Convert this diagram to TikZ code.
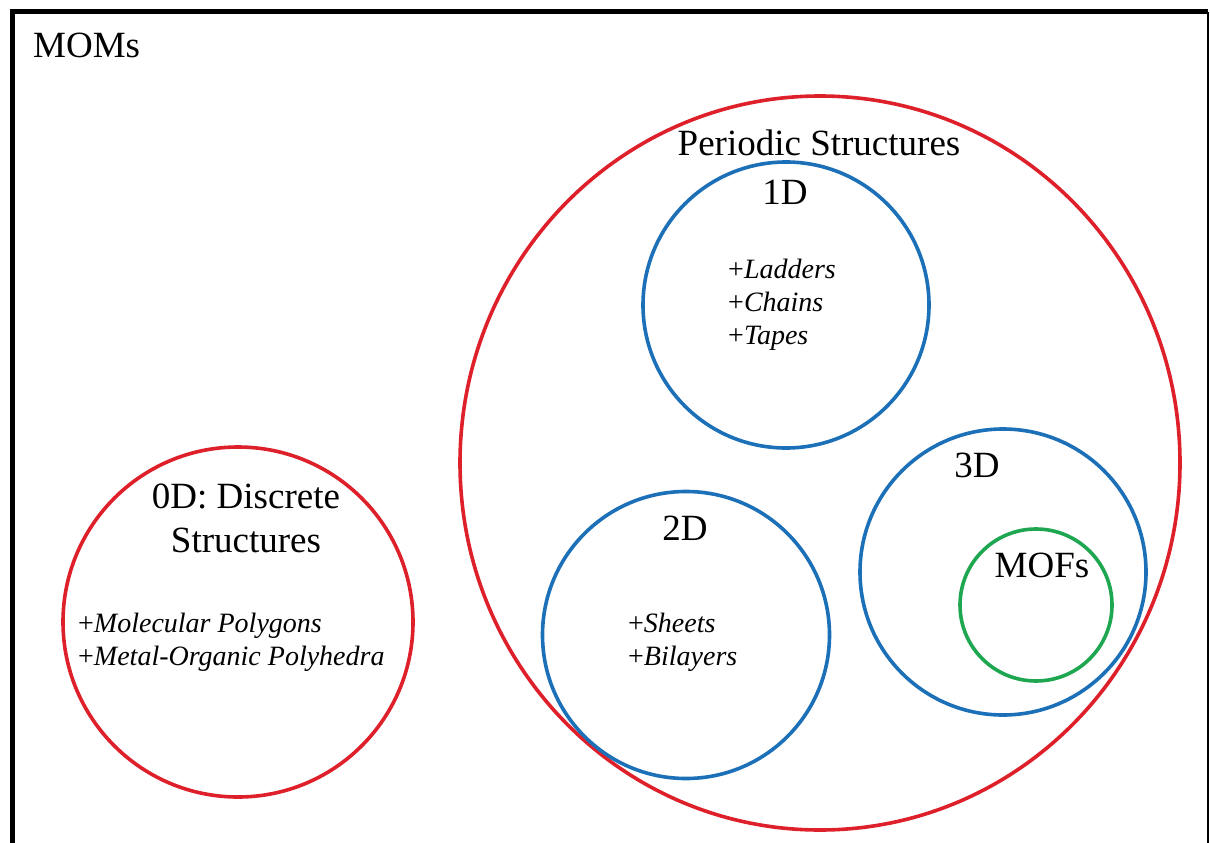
\documentclass[tikz,border=0pt]{standalone}
\usepackage{fontspec}
\setmainfont{Liberation Serif}
\usetikzlibrary{shapes.geometric}
\definecolor{cred}{RGB}{222,32,42}
\definecolor{cblue}{RGB}{28,112,184}
\definecolor{cgreen}{RGB}{30,166,80}
\tikzset{
  ring/.style={circle, draw, line width=3.6pt, inner sep=0pt},
  bigtxt/.style={font=\fontsize{37}{44}\selectfont, inner sep=0pt},
  listtxt/.style={font=\fontsize{28}{33}\selectfont, inner sep=0pt, align=left, anchor=west},
}
\begin{document}
\begin{tikzpicture}[x=1pt,y=-1pt]
\useasboundingbox (0,0) rectangle (1210,843);
\fill[white] (0,0) rectangle (1210,843);
% frame
\draw[line width=1.8pt] (1208,12) -- (1208,860);
\draw[line width=5pt] (1208,12) -- (12,12) -- (12,860);
\node[bigtxt, anchor=west] (moms) at (33,45) {MOMs};
% periodic
\node[draw=cred, line width=3.6pt, ellipse, minimum width=720pt, minimum height=734pt, inner sep=0pt] (per) at (820,463) {};
\node[bigtxt] (pertitle) at (819,143) {Periodic Structures};
% 0D
\node[ring, draw=cred, minimum size=350pt] (zd) at (238,622) {};
\node[bigtxt, align=center, font=\fontsize{37}{44}\selectfont] (zdtitle) at (246,518) {0D: Discrete\\Structures};
\node[listtxt] (zdlist) at (78,642) {+\textit{Molecular Polygons}\\+\textit{Metal-Organic Polyhedra}};
% 1D
\node[ring, draw=cblue, minimum size=286pt] (one) at (786,305) {};
\node[bigtxt] (onet) at (785,192) {1D};
\node[listtxt] (onelist) at (728,305) {+\textit{Ladders}\\+\textit{Chains}\\+\textit{Tapes}};
% 2D
\node[ring, draw=cblue, minimum size=287pt] (two) at (686,635) {};
\node[bigtxt] (twot) at (685,528) {2D};
\node[listtxt] (twolist) at (628,642) {+\textit{Sheets}\\+\textit{Bilayers}};
% 3D
\node[ring, draw=cblue, minimum size=286pt] (three) at (1003,572) {};
\node[bigtxt] (threet) at (977,465) {3D};
\node[ring, draw=cgreen, minimum size=152pt] (mof) at (1036,605) {};
\node[bigtxt] (moft) at (1042,565) {MOFs};
\end{tikzpicture}
\end{document}
